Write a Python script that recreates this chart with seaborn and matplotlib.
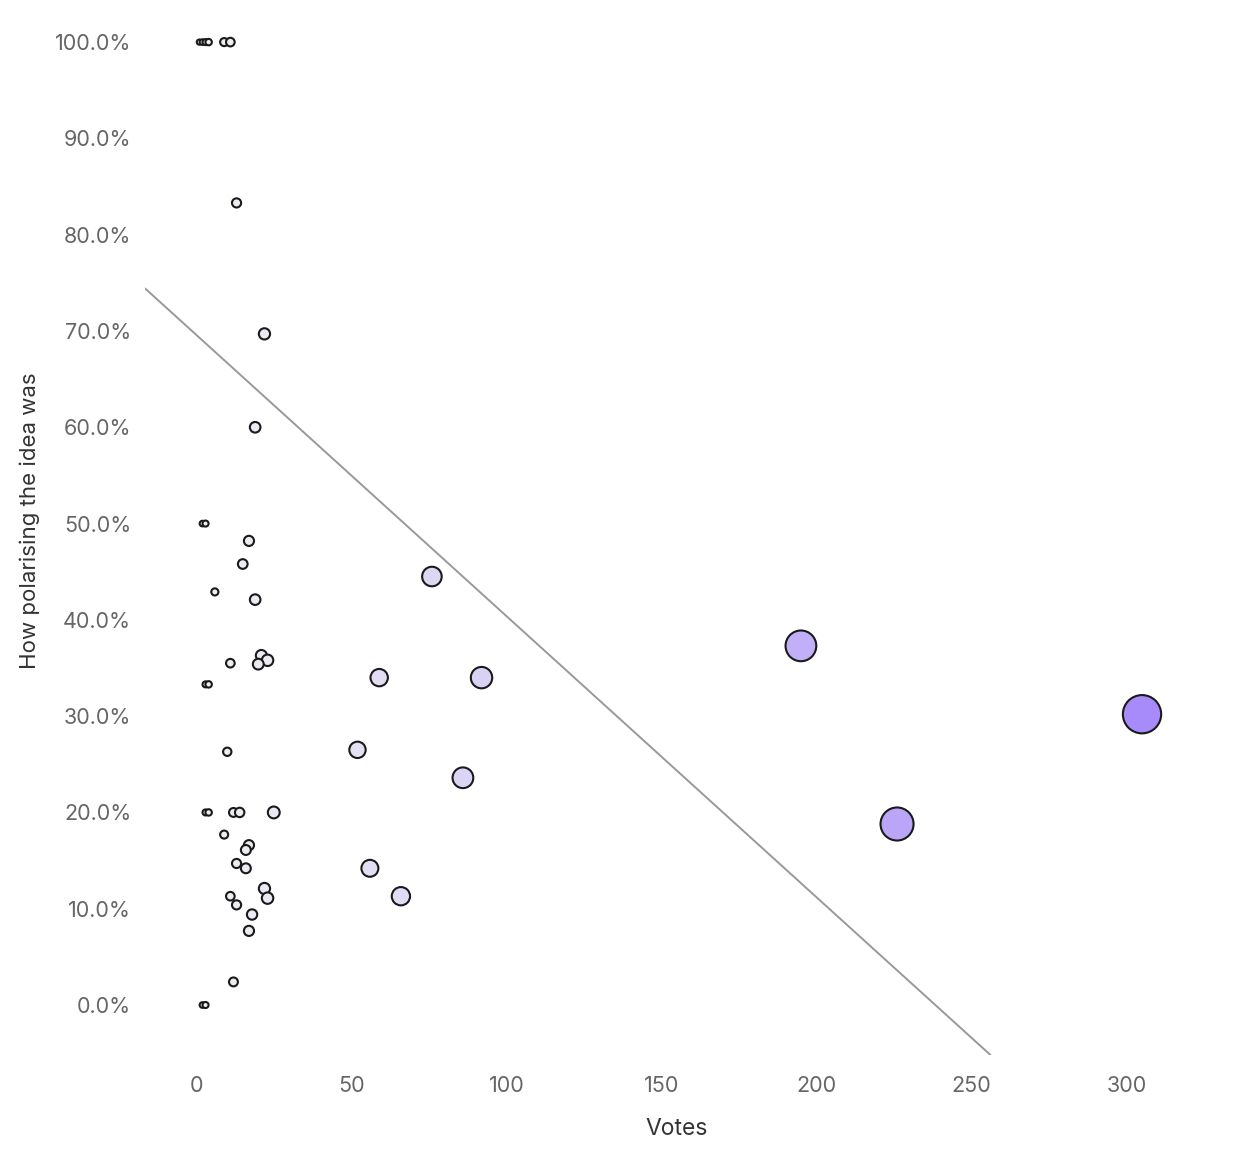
import matplotlib
matplotlib.use("Agg")
import matplotlib.pyplot as plt
from matplotlib.colors import LinearSegmentedColormap
from matplotlib.ticker import PercentFormatter
import seaborn as sns
import pandas as pd

# Datos
votes = [1, 2, 3, 4, 9, 11,
         13, 22, 19, 2, 3, 17, 15, 6, 19, 76,
         11, 21, 23, 20, 3, 4, 59, 92, 195, 305,
         10, 52, 86, 226, 3, 4, 12, 14, 25,
         9, 17, 16, 13, 16, 56, 22, 23, 11, 13, 18, 66,
         17, 12, 2, 3]
polarisation = [1.0, 1.0, 1.0, 1.0, 1.0, 1.0,
                0.833, 0.697, 0.600, 0.50, 0.50, 0.482, 0.458, 0.429, 0.421, 0.445,
                0.355, 0.363, 0.358, 0.354, 0.333, 0.333, 0.340, 0.340, 0.373, 0.302,
                0.263, 0.265, 0.236, 0.188, 0.20, 0.20, 0.20, 0.20, 0.20,
                0.177, 0.166, 0.161, 0.147, 0.142, 0.142, 0.121, 0.111, 0.113, 0.104, 0.094, 0.113,
                0.077, 0.024, 0.0, 0.0]

# linea de tendencia
trend_intercept = 0.696
trend_slope = -0.00292

df = pd.DataFrame({"votes": votes, "polarisation": polarisation})

sns.set_style("white")
plt.rcParams["font.family"] = ["Inter", "DejaVu Sans"]

cmap = LinearSegmentedColormap.from_list("votos", ["#f0f0f2", "#a78bfa"])

fig = plt.figure(figsize=(12.4, 11.62), dpi=100)
# los ejes sobresalen un poco por arriba, como en el original recortado
ax = fig.add_axes([0.117, 0.092, 0.8565, 0.919])

ax.axline((0, trend_intercept), slope=trend_slope, color="#999999", linewidth=1.4, zorder=1)

sns.scatterplot(data=df, x="votes", y="polarisation", hue="votes", size="votes",
                palette=cmap, sizes=(14, 760), edgecolor="#1a1a1a", linewidth=1.5,
                legend=False, ax=ax, zorder=2)

ax.set_xlim(-16.5, 326)
ax.set_ylim(-0.052, 1.057)
ax.set_xticks([0, 50, 100, 150, 200, 250, 300])
ax.set_yticks([i / 10 for i in range(11)])
ax.yaxis.set_major_formatter(PercentFormatter(1.0, decimals=1))

for s in ax.spines.values():
    s.set_visible(False)
ax.tick_params(axis="both", length=0, labelsize=15.5, labelcolor="#666666")
ax.tick_params(axis="x", pad=15)
ax.tick_params(axis="y", pad=10)

ax.set_xlabel("Votes", fontsize=16.5, color="#333333", labelpad=16)
ax.set_ylabel("How polarising the idea was", fontsize=16, color="#333333", labelpad=11)

plt.savefig("out.png", dpi=100)
